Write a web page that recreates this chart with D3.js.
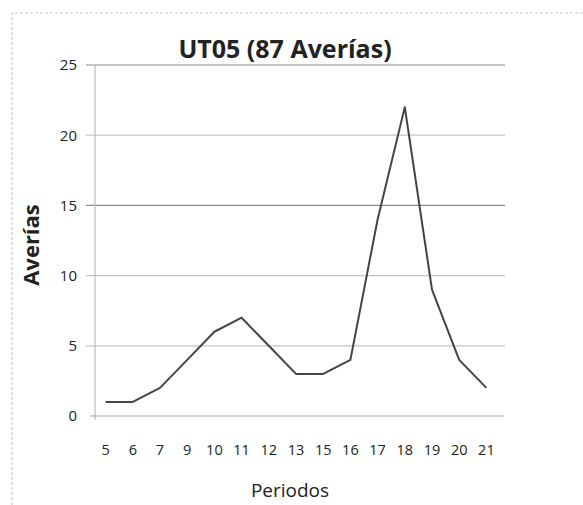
<!DOCTYPE html>
<html><head><meta charset="utf-8">
<script src="https://cdn.jsdelivr.net/npm/d3@7"></script>
<style>body{margin:0;background:#fff}svg{display:block}</style>
</head><body>
<svg id="c" width="583" height="505"></svg>
<script>
const periods = ["5","6","7","9","10","11","12","13","15","16","17","18","19","20","21"];
const averias = [1,1,2,4,6,7,5,3,3,4,14,22,9,4,2];
const yTicks = [0,5,10,15,20,25];
const title = "UT05 (87 Averías)";
const xTitle = "Periodos";
const yTitle = "Averías";

const svg = d3.select("#c");
const font = "'Open Sans', 'DejaVu Sans', sans-serif";

// frame
svg.append("path").attr("d","M12,505 L12,13 L583,13").attr("fill","none")
  .attr("stroke","#c8c8c8").attr("stroke-width",1.2).attr("stroke-dasharray","3,2");

const x = d3.scaleBand().domain(periods).range([92, 500]);
const y = d3.scaleLinear().domain([0,25]).range([416, 65]);

// gridlines
svg.append("g").selectAll("line").data(yTicks.filter(d=>d>0)).join("line")
  .attr("x1",86).attr("x2",505).attr("y1",d=>y(d)).attr("y2",d=>y(d))
  .attr("stroke",d=> (d===15||d===25)?"#8a8a8a":"#c4c4c4").attr("stroke-width",1.2);

// y axis line
svg.append("line").attr("x1",95).attr("x2",95).attr("y1",y(25)).attr("y2",y(0)+4)
  .attr("stroke","#bdbdbd").attr("stroke-width",1.2);
// x axis line
svg.append("line").attr("x1",90).attr("x2",504).attr("y1",y(0)).attr("y2",y(0))
  .attr("stroke","#a0a0a0").attr("stroke-width",1.2);

// y tick labels via axis
const yAxis = svg.append("g").attr("transform","translate(77,0)")
  .call(d3.axisLeft(y).tickValues(yTicks).tickSize(0).tickPadding(0));
yAxis.select(".domain").remove();
yAxis.selectAll("text").attr("font-family",font).attr("font-size",15).attr("fill","#222");

// x tick labels via axis
const xAxis = svg.append("g").attr("transform",`translate(0,${y(0)+29})`)
  .call(d3.axisBottom(x).tickSize(0).tickPadding(0));
xAxis.select(".domain").remove();
xAxis.selectAll("text").attr("font-family",font).attr("font-size",14.5).attr("fill","#222");

// line
const line = d3.line().x((d,i)=>x(periods[i])+x.bandwidth()/2).y(d=>y(d));
svg.append("path").datum(averias).attr("d",line).attr("fill","none")
  .attr("stroke","#444").attr("stroke-width",2).attr("stroke-linejoin","round");

// titles
svg.append("text").attr("x",285).attr("y",58).attr("text-anchor","middle")
  .attr("font-family",font).attr("font-weight","bold").attr("font-size",25).attr("fill","#222").text(title);
svg.append("text").attr("x",290).attr("y",497).attr("text-anchor","middle")
  .attr("font-family",font).attr("font-size",19).attr("fill","#222").text(xTitle);
svg.append("text").attr("transform","translate(39,245) rotate(-90)").attr("text-anchor","middle")
  .attr("font-family",font).attr("font-weight","bold").attr("font-size",22).attr("fill","#222").text(yTitle);
</script>
</body></html>
